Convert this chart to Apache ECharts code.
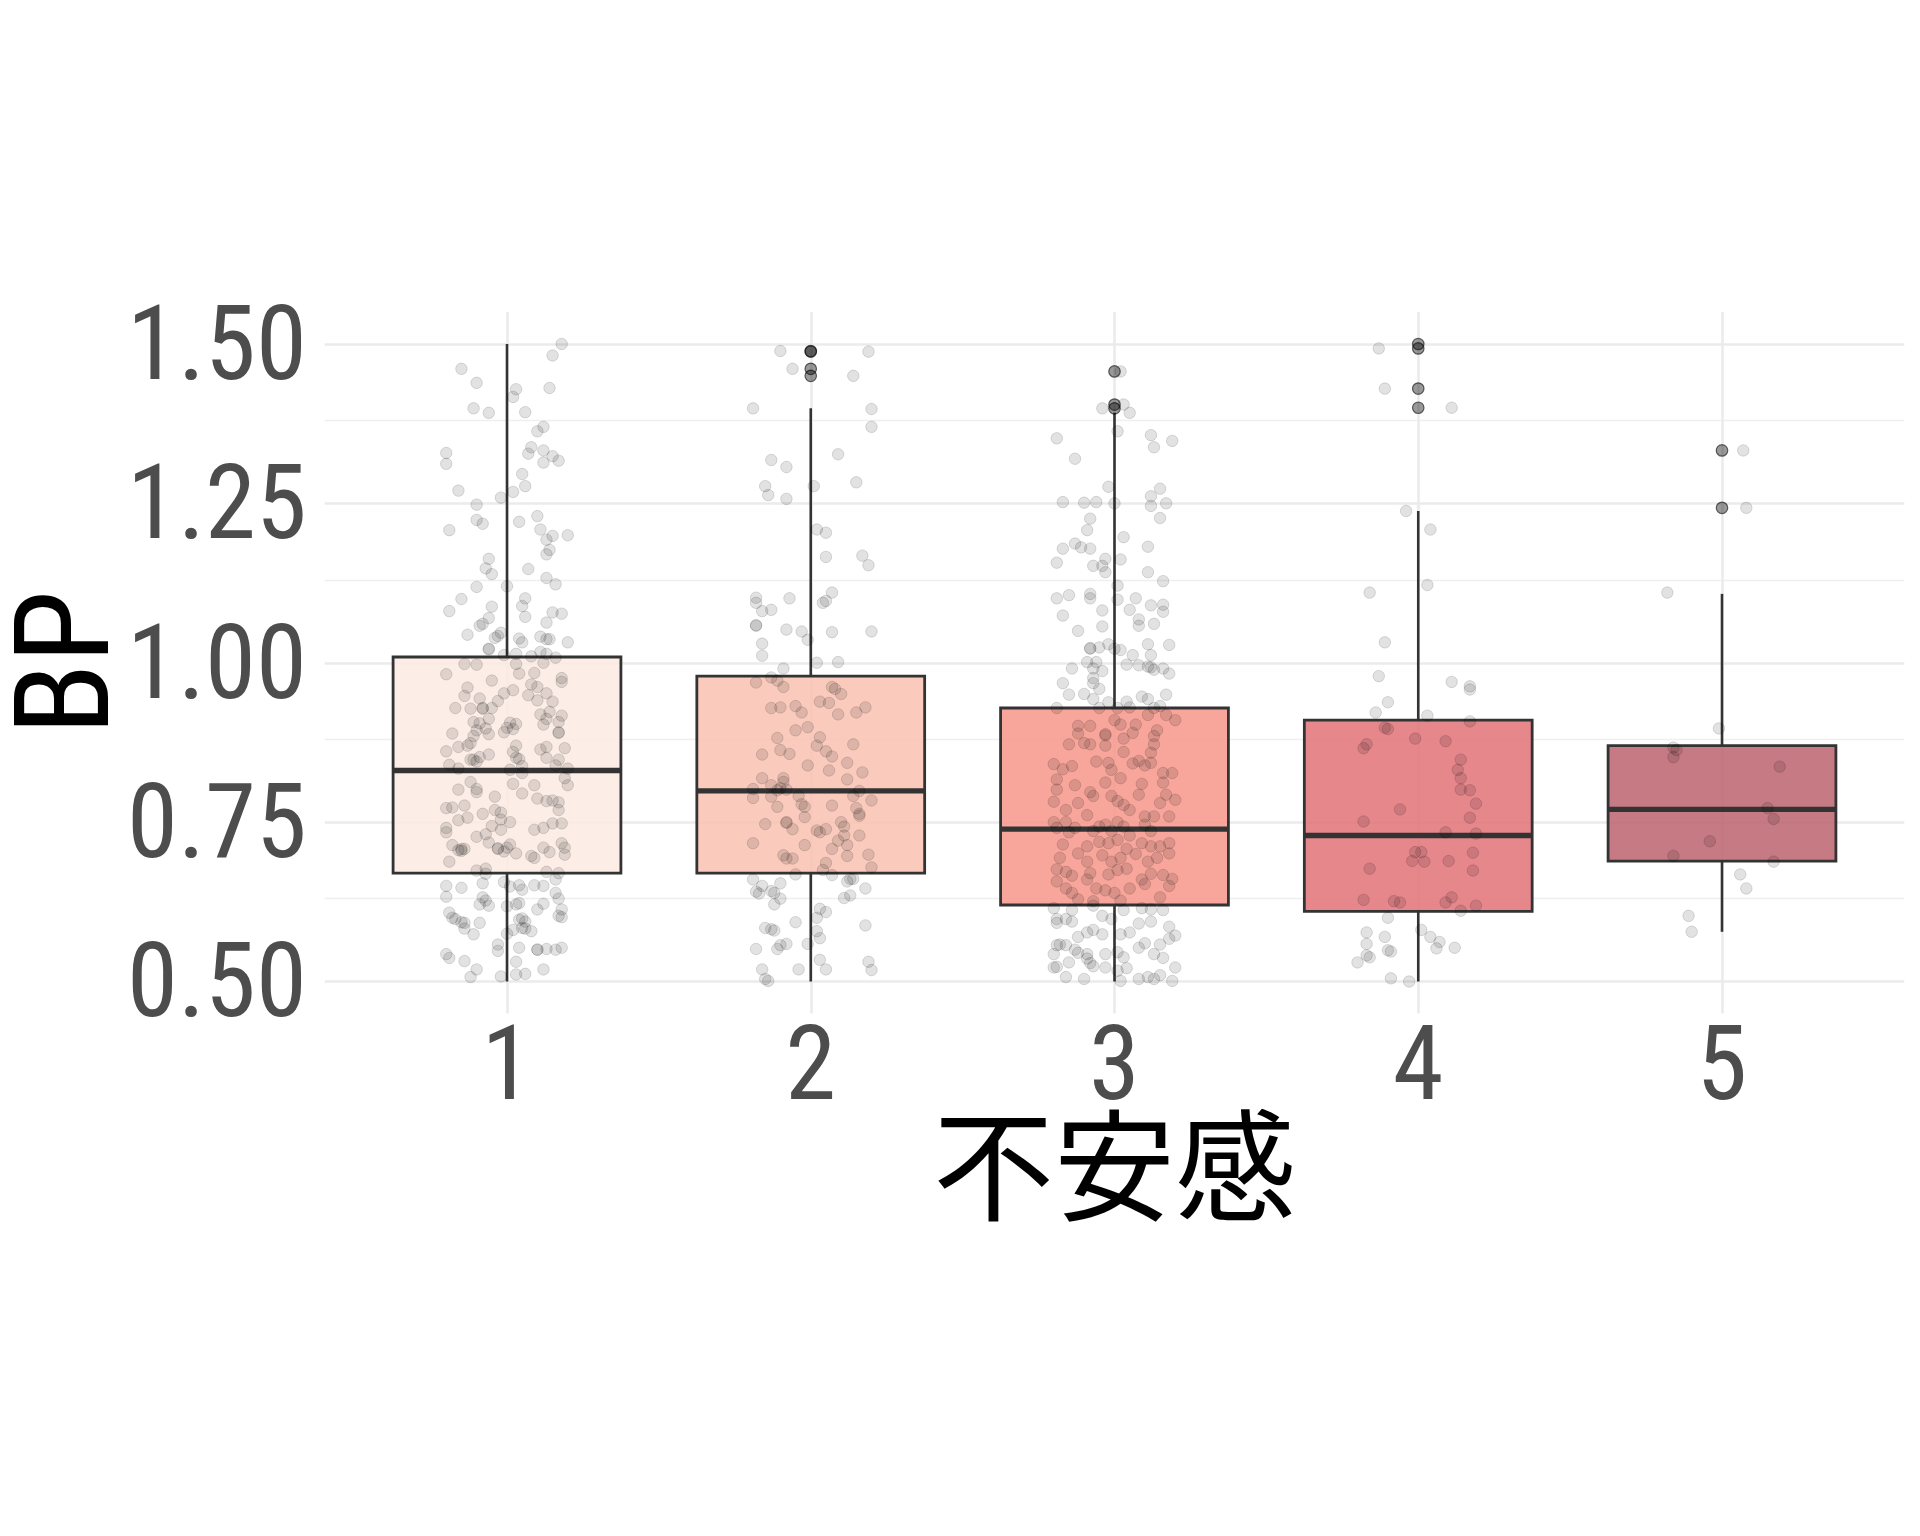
<!DOCTYPE html>
<html>
<head>
<meta charset="utf-8">
<script src="https://cdn.jsdelivr.net/npm/echarts@6/dist/echarts.min.js"></script>
<style>html,body{margin:0;padding:0;background:#fff;}#chart{width:1920px;height:1536px;}</style>
</head>
<body>
<div id="chart"></div>
<script>
// ---- data ----
const groups = [1, 2, 3, 4, 5];
const xTickLabels = ['1', '2', '3', '4', '5'];
const yTicks = [0.5, 0.75, 1.0, 1.25, 1.5];
const yMinorTicks = [0.625, 0.875, 1.125, 1.375];
const xAxisTitle = '不安感';
const yAxisTitle = 'BP';

const whiskerLow = [0.500, 0.500, 0.500, 0.500, 0.578];
const q1 = [0.670, 0.670, 0.620, 0.610, 0.689];
const medians = [0.831, 0.799, 0.739, 0.729, 0.770];
const q3 = [1.009, 0.979, 0.929, 0.910, 0.870];
const whiskerHigh = [1.500, 1.399, 1.392, 1.238, 1.108];

const outliers1 = [];
const outliers2 = [1.489, 1.488, 1.461, 1.450];
const outliers3 = [1.457, 1.405, 1.399];
const outliers4 = [1.500, 1.493, 1.430, 1.400];
const outliers5 = [1.333, 1.243];

const points1 = [
[1.18,1.500],[1.15,1.482],[0.85,1.461],[0.90,1.439],[1.03,1.429],[1.14,1.431],[1.02,1.417],[0.89,1.399],[0.94,1.392],[1.06,1.393],
[1.12,1.370],[1.10,1.363],[1.08,1.338],[0.80,1.329],[1.12,1.333],[1.07,1.328],[0.80,1.312],[1.12,1.314],[1.15,1.324],[1.17,1.317],
[1.05,1.296],[0.84,1.270],[1.06,1.277],[1.02,1.268],[0.98,1.259],[0.90,1.248],[1.10,1.230],[0.81,1.208],[0.90,1.224],[0.92,1.218],
[1.04,1.221],[1.11,1.209],[1.13,1.193],[1.15,1.199],[1.20,1.200],[1.14,1.177],[1.13,1.170],[0.94,1.163],[1.07,1.147],[0.93,1.148],
[0.95,1.139],[1.13,1.133],[1.16,1.123],[0.90,1.119],[1.00,1.120],[0.85,1.100],[1.06,1.101],[1.05,1.089],[0.81,1.081],[0.95,1.088],
[1.06,1.072],[1.15,1.079],[1.18,1.077],[0.94,1.070],[0.92,1.061],[0.91,1.058],[1.13,1.063],[0.87,1.044],[0.97,1.042],[0.98,1.047],
[0.96,1.039],[1.04,1.038],[1.05,1.032],[1.11,1.041],[1.13,1.037],[1.14,1.037],[1.20,1.032],[0.94,1.022],[0.94,1.021],[0.99,1.012],
[1.03,1.014],[1.08,1.010],[1.11,1.017],[1.13,1.014],[1.16,1.008],[0.86,0.998],[0.90,0.997],[1.03,0.998],[1.12,1.000],
[0.80,0.982],[1.18,0.976],[1.18,0.970],[1.04,0.983],[1.09,0.984],[0.95,0.972],[0.87,0.961],[0.86,0.948],[1.02,0.957],[0.99,0.952],
[1.08,0.966],[1.10,0.962],[1.13,0.952],[1.07,0.949],[1.10,0.941],[0.91,0.944],[0.97,0.940],[0.83,0.929],[0.88,0.928],[0.92,0.929],
[0.95,0.929],[0.92,0.928],[1.15,0.939],[1.11,0.919],[1.14,0.923],[1.18,0.917],[1.13,0.912],[0.89,0.907],[0.91,0.905],[0.94,0.912],
[1.17,0.907],[1.01,0.906],[1.03,0.904],[0.99,0.891],[1.00,0.898],[1.02,0.896],[0.90,0.894],[0.93,0.897],[0.94,0.888],[1.12,0.903],
[0.82,0.889],[1.17,0.891],[1.17,0.890],[0.89,0.885],[0.88,0.874],[0.84,0.868],[0.87,0.870],[1.03,0.870],[1.13,0.868],[1.11,0.864],
[1.19,0.866],[1.02,0.860],[0.80,0.861],[0.91,0.852],[0.94,0.856],[0.88,0.848],[0.90,0.845],[0.89,0.848],[1.03,0.851],[1.04,0.849],
[1.05,0.838],[1.13,0.851],[1.17,0.848],[0.81,0.840],[0.84,0.834],[1.01,0.832],[1.05,0.827],[1.16,0.839],[1.20,0.834],[1.19,0.819],
[1.20,0.808],[0.90,0.802],[0.90,0.797],[0.84,0.801],[0.88,0.813],[1.02,0.810],[1.05,0.795],[1.09,0.808],[0.96,0.790],[1.10,0.787],
[1.13,0.783],[1.15,0.784],[1.17,0.781],[1.17,0.769],[0.80,0.772],[0.82,0.773],[0.86,0.776],[0.92,0.763],[0.96,0.769],[0.98,0.765],
[1.01,0.750],[0.87,0.757],[0.84,0.753],[0.80,0.741],[0.80,0.734],[0.98,0.754],[0.98,0.738],[0.95,0.744],[1.12,0.741],[1.09,0.738],
[1.15,0.748],[1.18,0.748],[0.90,0.727],[0.93,0.731],[0.94,0.718],[0.97,0.709],[0.99,0.704],[1.00,0.710],[1.01,0.715],[1.03,0.701],
[0.82,0.714],[0.84,0.706],[0.85,0.708],[0.86,0.708],[0.97,0.708],[1.12,0.710],[1.14,0.703],[1.18,0.717],[1.19,0.710],[1.19,0.699],
[1.08,0.697],[1.09,0.694],[0.81,0.688],[0.85,0.705],
[0.90,0.674],[0.93,0.677],[0.93,0.669],[1.13,0.672],[1.17,0.670],[1.16,0.660],[0.80,0.650],[0.85,0.647],[0.92,0.654],[0.99,0.656],
[1.01,0.649],[1.04,0.651],[1.05,0.644],[1.09,0.651],[1.12,0.650],[0.80,0.633],[0.92,0.632],[0.93,0.627],[0.91,0.621],[0.94,0.619],
[1.16,0.639],[1.17,0.630],[1.12,0.622],[1.10,0.613],[1.00,0.618],[1.03,0.621],[1.04,0.623],[1.18,0.613],[1.17,0.603],[1.18,0.601],
[0.81,0.608],[0.82,0.600],[0.83,0.598],[0.85,0.593],[0.86,0.583],[0.86,0.592],[0.91,0.592],[0.89,0.574],[1.04,0.597],[1.05,0.599],
[1.06,0.594],[1.00,0.575],[1.02,0.581],[1.05,0.584],[1.06,0.583],[1.08,0.579],[0.97,0.558],[1.04,0.553],[1.10,0.550],[1.10,0.550],
[1.13,0.551],[1.16,0.550],[1.18,0.553],[0.80,0.543],[0.81,0.537],[0.86,0.532],[0.90,0.519],[0.88,0.507],[0.97,0.548],[0.98,0.508],
[1.03,0.531],[1.03,0.511],[1.06,0.512],[1.12,0.519]
];

const points2 = [
[1.90,1.489],[2.19,1.488],[1.94,1.461],[2.14,1.450],[1.81,1.399],[2.20,1.398],[2.20,1.370],[2.09,1.327],[1.87,1.318],[1.92,1.307],
[1.85,1.277],[2.01,1.277],[1.86,1.263],[1.92,1.257],[2.15,1.283],[2.02,1.209],[2.05,1.204],[2.05,1.166],[2.17,1.168],[2.19,1.153],
[1.82,1.102],[1.82,1.094],[1.84,1.081],[1.87,1.083],[1.93,1.101],[2.07,1.110],[2.05,1.097],[2.04,1.094],[1.82,1.059],[1.82,1.058],
[1.92,1.052],[1.97,1.049],[1.99,1.036],[2.07,1.048],[2.20,1.049],[1.84,1.030],[1.84,1.011],[1.91,0.991],[2.02,1.000],[2.09,1.001],
[1.82,0.969],[1.87,0.977],[1.89,0.972],[1.91,0.962],[2.07,0.962],[2.08,0.959],[2.10,0.951],[2.03,0.939],[2.06,0.937],[1.87,0.929],
[1.90,0.930],[1.95,0.932],[1.97,0.922],[2.09,0.919],[2.15,0.922],[2.18,0.930],[1.99,0.899],[1.95,0.894],[1.89,0.882],[2.03,0.883],
[2.14,0.872],[2.02,0.870],[2.05,0.861],[2.07,0.853],[1.90,0.863],[1.93,0.857],[1.84,0.856],[1.99,0.839],[2.06,0.831],[2.12,0.843],
[2.17,0.828],[1.84,0.819],[1.91,0.819],[1.91,0.813],[2.12,0.817],[1.81,0.802],[1.87,0.808],[1.90,0.803],[1.89,0.800],[1.92,0.801],
[2.16,0.799],[1.96,0.791],[1.81,0.788],[1.87,0.790],[2.14,0.791],[1.97,0.778],[1.98,0.774],[1.89,0.774],[2.07,0.776],[2.15,0.772],
[2.16,0.763],[2.16,0.760],[2.20,0.784],[1.98,0.758],[1.85,0.747],[1.92,0.750],[1.92,0.749],[1.94,0.739],[2.02,0.737],[2.03,0.734],
[2.05,0.739],[2.10,0.750],[2.11,0.743],[2.11,0.729],[2.09,0.721],[2.07,0.708],[2.12,0.714],[2.16,0.729],[1.81,0.717],[1.98,0.714],
[1.91,0.698],[1.92,0.693],[1.94,0.693],[2.12,0.697],[2.19,0.699],[2.20,0.679],[2.05,0.686],[2.04,0.675],[2.07,0.667],[1.95,0.668],
[1.81,0.660],[1.84,0.650],[1.82,0.641],[1.83,0.638],[1.87,0.642],[1.88,0.639],[1.90,0.654],[1.90,0.630],[1.88,0.621],[2.12,0.657],
[2.13,0.661],[2.14,0.661],[2.18,0.646],[2.13,0.635],[2.11,0.631],[2.03,0.614],[2.05,0.609],[2.02,0.600],[1.95,0.593],[1.85,0.584],
[1.87,0.582],[1.88,0.580],[2.18,0.588],[2.02,0.579],[2.03,0.568],[1.92,0.559],[1.90,0.557],[1.89,0.551],[1.82,0.551],[1.99,0.559],
[2.03,0.534],[2.05,0.519],[1.84,0.519],[1.96,0.519],[2.19,0.531],[2.20,0.518],[1.85,0.504],[1.86,0.501]
];

const points3 = [
[3.02,1.457],[2.96,1.399],[3.03,1.405],[3.05,1.392],[3.01,1.363],[2.81,1.352],[3.12,1.357],[3.13,1.338],[3.19,1.348],[2.87,1.320],
[2.98,1.276],[3.15,1.273],[2.83,1.252],[2.90,1.251],[2.94,1.252],[3.00,1.250],[3.12,1.261],[3.12,1.246],[3.17,1.250],[2.92,1.226],
[3.15,1.227],[2.91,1.208],[3.03,1.197],[2.87,1.187],[2.89,1.181],[2.92,1.179],[2.83,1.179],[3.11,1.182],[2.81,1.157],[2.93,1.152],
[2.96,1.152],[2.97,1.142],[2.97,1.163],[3.02,1.162],[3.11,1.142],[3.16,1.128],[3.01,1.121],[2.81,1.101],[2.85,1.106],[2.92,1.108],
[2.92,1.101],[3.01,1.099],[3.07,1.101],[3.12,1.090],[3.16,1.091],[3.16,1.080],[2.96,1.082],[3.05,1.083],[3.08,1.068],[3.08,1.058],
[3.13,1.061],[2.83,1.074],[2.96,1.057],[2.88,1.050],[2.92,1.023],[2.92,1.022],[2.95,1.024],[2.98,1.029],[3.00,1.022],[3.02,1.020],
[3.11,1.029],[3.18,1.028],[3.06,1.012],[3.12,1.012],[2.86,0.991],[2.91,1.001],[2.93,0.991],[2.94,1.001],[2.96,0.987],[3.04,0.997],
[3.08,0.996],[3.11,0.994],[3.12,0.993],[3.13,0.989],[3.16,0.991],[3.18,0.983],[2.83,0.968],[2.93,0.968],[2.93,0.976],[2.85,0.950],
[2.90,0.951],[2.93,0.943],[2.95,0.959],[2.98,0.938],[3.04,0.939],[3.09,0.947],[3.11,0.943],[3.17,0.950],[2.81,0.929],[2.95,0.929],
[3.01,0.929],[3.05,0.930],[3.13,0.929],[3.15,0.932],
[2.88,0.901],[2.92,0.901],[3.00,0.910],[3.02,0.903],[3.07,0.903],[3.11,0.918],[3.14,0.894],[3.17,0.918],[3.20,0.910],[2.88,0.889],
[2.85,0.872],[2.90,0.874],[2.92,0.872],[2.97,0.886],[2.97,0.888],[3.03,0.881],[3.06,0.890],[3.13,0.885],[3.13,0.872],[2.97,0.870],
[3.03,0.860],[3.12,0.859],[2.80,0.841],[2.83,0.833],[2.86,0.838],[2.94,0.845],[2.98,0.843],[2.99,0.832],[3.06,0.842],[3.08,0.846],
[3.10,0.839],[3.12,0.843],[3.16,0.827],[3.19,0.827],[2.81,0.817],[2.87,0.808],[2.97,0.812],[3.02,0.819],[3.09,0.810],[3.16,0.812],
[2.81,0.801],[2.92,0.797],[2.93,0.791],[2.99,0.791],[3.01,0.783],[3.03,0.777],[3.05,0.769],[3.08,0.793],[3.15,0.780],[3.17,0.793],
[3.20,0.785],[2.80,0.782],[2.84,0.769],[2.88,0.780],[2.91,0.761],[3.10,0.759],[3.13,0.759],[3.18,0.759],[2.80,0.750],[2.84,0.750],
[2.81,0.741],[2.85,0.734],[2.87,0.741],[2.93,0.736],[2.95,0.743],[2.97,0.746],[2.99,0.736],[3.01,0.750],[3.03,0.743],[3.10,0.746],
[3.12,0.736],[3.05,0.729],[2.83,0.715],[2.91,0.712],[2.95,0.719],[2.98,0.717],[3.01,0.722],[3.04,0.708],[3.09,0.717],[3.12,0.712],
[3.15,0.712],[3.18,0.717],[2.82,0.694],[2.88,0.701],[2.91,0.688],[2.96,0.698],[2.99,0.688],[3.02,0.694],[3.07,0.700],[3.11,0.688],
[3.14,0.694],[3.18,0.701],[2.81,0.676],[2.84,0.672],[2.86,0.666],[2.92,0.670],[2.98,0.668],[3.01,0.675],[3.04,0.677],[3.09,0.660],
[3.12,0.669],[3.16,0.667],[3.19,0.661],[2.81,0.657],[2.84,0.646],[2.86,0.639],[2.91,0.660],[2.94,0.646],[2.97,0.643],[3.00,0.639],
[3.05,0.646],[3.10,0.653],[3.15,0.632],[3.18,0.650],[2.88,0.629],[2.93,0.626],[3.02,0.627],
[2.80,0.615],[2.86,0.612],[2.93,0.619],[2.96,0.603],[2.99,0.598],[3.03,0.612],[3.09,0.615],[3.12,0.613],[3.16,0.612],[2.81,0.598],
[2.86,0.594],[2.81,0.592],[2.84,0.598],[2.91,0.577],[2.93,0.581],[2.96,0.574],[3.02,0.574],[3.05,0.577],[3.08,0.591],[3.12,0.594],
[3.18,0.586],[3.20,0.572],[2.88,0.570],[2.84,0.557],[2.81,0.557],[2.82,0.558],[2.87,0.550],[2.88,0.545],[2.91,0.543],[2.92,0.529],
[2.97,0.543],[3.01,0.546],[3.03,0.538],[3.08,0.553],[3.10,0.560],[3.13,0.543],[3.16,0.537],[3.15,0.558],[3.18,0.567],[2.80,0.543],
[2.81,0.523],[2.85,0.530],[2.80,0.522],[2.91,0.536],[2.93,0.524],[2.97,0.522],[3.01,0.517],[3.04,0.521],[3.20,0.522],[2.84,0.507],
[2.90,0.504],[3.02,0.501],[3.08,0.504],[3.11,0.507],[3.13,0.504],[3.15,0.510],[3.19,0.501]
];

const points4 = [
[3.87,1.493],[3.89,1.430],[4.11,1.400],[3.96,1.238],[4.04,1.209],[3.84,1.110],[4.03,1.122],[3.89,1.032],[3.87,0.979],[4.11,0.970],
[4.17,0.963],[4.17,0.958],[3.90,0.938],[3.86,0.922],[4.03,0.917],[3.89,0.898],[3.90,0.896],[4.17,0.908],[3.83,0.872],[3.82,0.866],
[3.99,0.881],[4.09,0.877],[4.14,0.848],[4.13,0.832],[4.14,0.819],[4.14,0.801],[4.17,0.800],[4.19,0.779],[3.94,0.770],[3.82,0.751],
[4.17,0.757],[4.09,0.734],[4.19,0.732],[3.99,0.703],[4.01,0.703],[3.98,0.689],[4.02,0.688],[4.10,0.689],[4.18,0.702],[3.84,0.677],
[4.18,0.674],[3.82,0.628],[3.92,0.626],[3.94,0.624],[4.09,0.624],[4.11,0.632],[4.14,0.611],[4.19,0.619],[3.90,0.600],[4.01,0.581],
[3.83,0.577],[3.89,0.570],[4.04,0.570],[4.07,0.562],[3.83,0.559],[4.06,0.552],[4.12,0.553],[3.90,0.549],[3.91,0.547],[3.83,0.541],
[3.84,0.538],[3.80,0.530],[3.91,0.505],[3.97,0.500]
];

const points5 = [
[5.07,1.333],[5.08,1.243],[4.82,1.110],[4.99,0.897],[4.84,0.867],[4.85,0.863],[4.84,0.852],[5.19,0.837],[5.15,0.772],[5.17,0.755],
[4.96,0.720],[4.84,0.697],[5.17,0.688],[5.06,0.668],[5.08,0.646],[4.89,0.603],[4.90,0.578]
];

// ---- styles ----
const boxFills = ['rgba(251,234,227,0.85)', 'rgba(249,194,177,0.85)', 'rgba(247,150,137,0.85)', 'rgba(226,114,120,0.85)', 'rgba(188,99,109,0.85)'];
const lineColor = '#333333';
const latinFont = "'Roboto Condensed', sans-serif";
const cjkFont = "'Noto Sans CJK JP', 'Noto Sans CJK SC', sans-serif";

const boxData = groups.map((g, i) => [g, whiskerLow[i], q1[i], medians[i], q3[i], whiskerHigh[i]]);
const outlierLists = [outliers1, outliers2, outliers3, outliers4, outliers5];
const outlierData = [];
outlierLists.forEach((list, i) => list.forEach(v => outlierData.push([groups[i], v])));
const jitterData = [].concat(points1, points2, points3, points4, points5);

const gridLineMajor = { color: '#EBEBEB', width: 2.6, type: 'solid' };
const gridLineMinor = { color: '#EFEFEF', width: 1.3, type: 'solid' };
const markLineData = []
  .concat(yMinorTicks.map(v => ({ yAxis: v, lineStyle: gridLineMinor })))
  .concat(yTicks.map(v => ({ yAxis: v, lineStyle: gridLineMajor })))
  .concat(groups.map(v => ({ xAxis: v, lineStyle: gridLineMajor })));

const chart = echarts.init(document.getElementById('chart'), null, { renderer: 'canvas' });
chart.setOption({
  backgroundColor: '#ffffff',
  animation: false,
  grid: { left: 324.75, width: 1579.5, top: 312.1, height: 701.3, containLabel: false, outerBoundsMode: 'none' },
  xAxis: {
    type: 'value', min: 0.4, max: 5.6,
    axisLine: { show: false }, axisTick: { show: false }, splitLine: { show: false },
    axisLabel: {
      customValues: groups,
      formatter: v => xTickLabels[groups.indexOf(v)] || '',
      color: '#4D4D4D', fontSize: 103, fontFamily: latinFont, margin: 8
    },
    name: xAxisTitle, nameLocation: 'middle', nameGap: 91, nameMoveOverlap: false,
    nameTextStyle: { color: '#000', fontSize: 121, fontFamily: cjkFont }
  },
  yAxis: {
    type: 'value', min: 0.45, max: 1.55,
    axisLine: { show: false }, axisTick: { show: false }, splitLine: { show: false },
    axisLabel: {
      customValues: yTicks,
      formatter: v => v.toFixed(2),
      color: '#4D4D4D', fontSize: 103, fontFamily: latinFont, margin: 18,
      verticalAlign: 'top', lineHeight: 18
    },
    name: yAxisTitle, nameLocation: 'middle', nameGap: 184, nameMoveOverlap: false,
    nameTextStyle: { color: '#000', fontSize: 132, fontFamily: latinFont }
  },
  series: [
    {
      type: 'custom', name: 'box', z: 3,
      data: boxData,
      encode: { x: 0, y: [1, 2, 3, 4, 5] },
      renderItem: function (params, api) {
        const x = api.value(0);
        const pMin = api.coord([x, api.value(1)]);
        const pQ1 = api.coord([x, api.value(2)]);
        const pMed = api.coord([x, api.value(3)]);
        const pQ3 = api.coord([x, api.value(4)]);
        const pMax = api.coord([x, api.value(5)]);
        const half = api.size([0.75, 0])[0] / 2;
        return {
          type: 'group',
          children: [
            { type: 'line', shape: { x1: pMax[0], y1: pMax[1], x2: pQ3[0], y2: pQ3[1] }, style: { stroke: lineColor, lineWidth: 2.6 } },
            { type: 'line', shape: { x1: pMin[0], y1: pMin[1], x2: pQ1[0], y2: pQ1[1] }, style: { stroke: lineColor, lineWidth: 2.6 } },
            { type: 'rect', shape: { x: pQ3[0] - half, y: pQ3[1], width: 2 * half, height: pQ1[1] - pQ3[1] },
              style: { fill: boxFills[params.dataIndex], stroke: lineColor, lineWidth: 2.8 } },
            { type: 'line', shape: { x1: pMed[0] - half, y1: pMed[1], x2: pMed[0] + half, y2: pMed[1] }, style: { stroke: lineColor, lineWidth: 5.4 } }
          ]
        };
      },
      markLine: {
        silent: true, symbol: ['none', 'none'], z: 1,
        label: { show: false }, emphasis: { disabled: true },
        data: markLineData
      }
    },
    {
      type: 'scatter', name: 'jitter', z: 4,
      data: jitterData, symbol: 'circle', symbolSize: 11.5,
      itemStyle: { color: 'rgba(0,0,0,0.14)', borderColor: 'rgba(0,0,0,0.17)', borderWidth: 1 },
      emphasis: { disabled: true }
    },
    {
      type: 'scatter', name: 'outliers', z: 5,
      data: outlierData, symbol: 'circle', symbolSize: 11.5,
      itemStyle: { color: 'rgba(0,0,0,0.5)', borderColor: 'rgba(0,0,0,0.72)', borderWidth: 1.2 },
      emphasis: { disabled: true }
    }
  ]
});
</script>
</body>
</html>
